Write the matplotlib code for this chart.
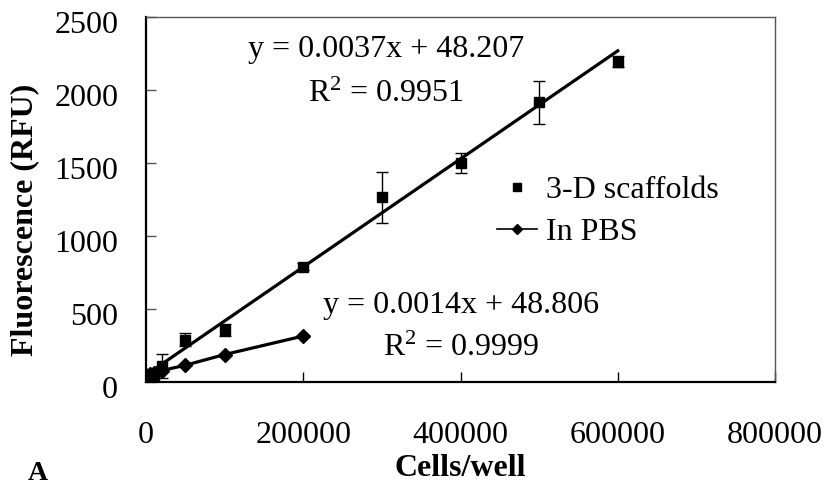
import numpy as np
import matplotlib
matplotlib.use("Agg")
from matplotlib import pyplot as plt
from matplotlib import transforms as mtransforms
from matplotlib.lines import Line2D

# cell counts and fluorescence readings
cells_scaffold = [0, 5000, 10000, 20000, 50000, 100000, 200000, 300000, 400000, 500000, 600000]
rfu_scaffold = [5, 30, 50, 110, 290, 355, 790, 1265, 1500, 1915, 2195]
err_scaffold = [10, 15, 20, 85, 45, 40, 25, 175, 70, 150, 40]

cells_pbs = [0, 5000, 10000, 20000, 50000, 100000, 200000]
rfu_pbs = [45, 55, 62, 78, 115, 188, 315]

# linear fits
slope_scaffold = 0.0037
icept_scaffold = 48.207
r2_scaffold = 0.9951
slope_pbs = 0.0014
icept_pbs = 48.806
r2_pbs = 0.9999

xticks = [0, 200000, 400000, 600000, 800000]
yticks = [0, 500, 1000, 1500, 2000, 2500]

plt.rcParams['font.family'] = ['Liberation Serif', 'DejaVu Serif']
plt.rcParams['mathtext.fontset'] = 'custom'
plt.rcParams['mathtext.rm'] = 'Liberation Serif'
plt.rcParams['mathtext.it'] = 'Liberation Serif:italic'
plt.rcParams['mathtext.bf'] = 'Liberation Serif:bold'
fs = 23

W, H = 825, 487
fig = plt.figure(figsize=(W / 100, H / 100), dpi=100)
ax = fig.add_axes([146 / W, 1 - 382 / H, (775 - 146) / W, (382 - 17) / H])

ax.errorbar(cells_scaffold, rfu_scaffold, yerr=err_scaffold, fmt='s', color='black',
            markersize=7, elinewidth=1, capsize=4.5, capthick=1, zorder=4)

x_fit = np.array([0, cells_scaffold[-1]])
ax.plot(x_fit, slope_scaffold * x_fit + icept_scaffold, color='black', lw=2.3, zorder=3)

ax.plot(cells_pbs, rfu_pbs, color='black', lw=2.3, marker='D', markersize=7, zorder=3)

ax.set_xlim(0, 800000)
ax.set_ylim(0, 2500)
ax.set_xticks(xticks)
ax.set_yticks(yticks)
ax.set_xticklabels([str(v) for v in xticks], fontsize=fs)
ax.set_yticklabels([str(v) for v in yticks], fontsize=fs)
ax.tick_params(axis='x', direction='in', length=7, width=1, pad=28, colors='black')
ax.tick_params(axis='y', direction='in', length=7, width=1, pad=20, color='#555555',
               labelcolor='black')

# shift y labels slightly down
offset = mtransforms.ScaledTranslation(0, -0.05, fig.dpi_scale_trans)
for lab in ax.get_yticklabels():
    lab.set_transform(lab.get_transform() + offset)

ax.spines['left'].set_linewidth(1.6)
ax.spines['bottom'].set_linewidth(1.6)
for s in ['top', 'right']:
    ax.spines[s].set_linewidth(1.0)
    ax.spines[s].set_color('#555555')

handles = [Line2D([], [], linestyle='none', marker='s', color='black', markersize=6),
           Line2D([], [], color='black', lw=1.2, marker='D', markersize=5)]
fig.legend(handles, ['3-D scaffolds', 'In PBS'], loc='upper left',
           bbox_to_anchor=(497 / W, 1 - 176 / H), bbox_transform=fig.transFigure,
           frameon=False, fontsize=fs, borderpad=0, borderaxespad=0,
           handlelength=1.26, handletextpad=0.28, labelspacing=0.38)

def ftext(x, y, s, **kw):
    fig.text(x / W, 1 - y / H, s, ha='center', va='center', fontsize=fs, **kw)

ftext(386, 50, 'y = {}x + {}'.format(slope_scaffold, icept_scaffold))
ftext(386, 94, 'R$^{{2}}$ = {}'.format(r2_scaffold))
ftext(461, 305, 'y = {}x + {}'.format(slope_pbs, icept_pbs))
ftext(461, 348, 'R$^{{2}}$ = {}'.format(r2_pbs))

ftext(460, 468, 'Cells/well', fontweight='bold')
ftext(25, 220, 'Fluorescence (RFU)', fontweight='bold', rotation=90)
fig.text(38 / W, 1 - 473 / H, 'A', ha='center', va='center', fontsize=20, fontweight='bold')

fig.savefig('out.png', dpi=100)
